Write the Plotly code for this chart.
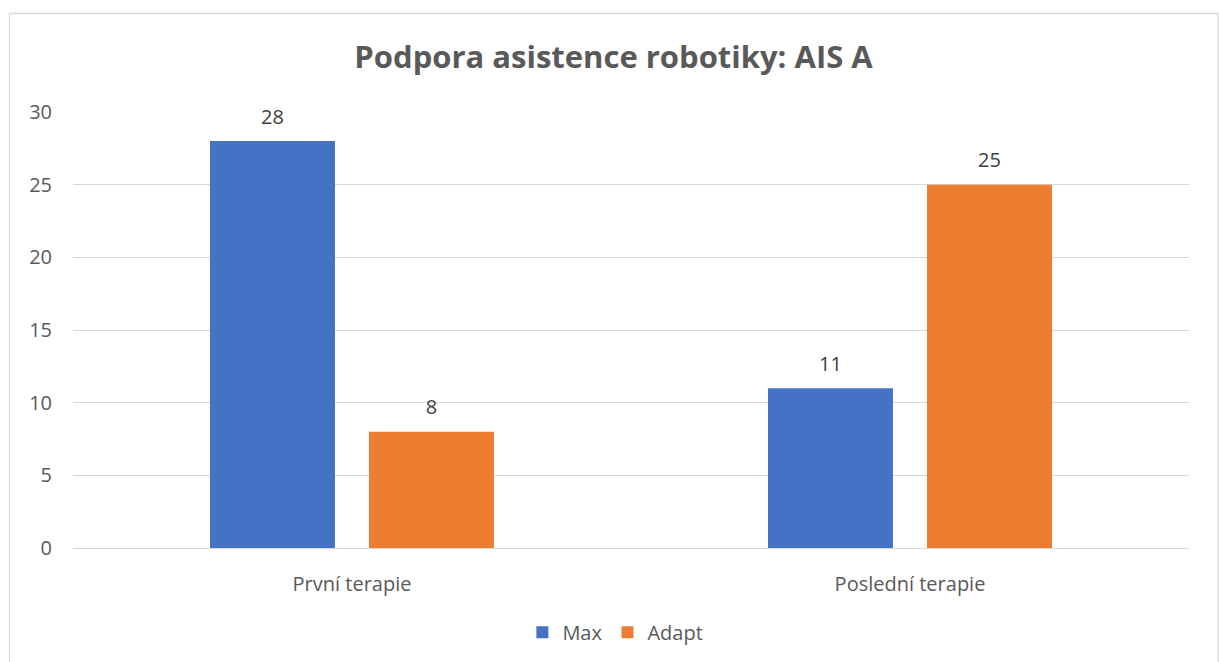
import plotly.graph_objects as go

categories = ["První terapie", "Poslední terapie"]
max_values = [28, 11]
adapt_values = [8, 25]
series_names = ["Max", "Adapt"]
series_colors = ["#4472C4", "#ED7D31"]
y_ticks = [0, 5, 10, 15, 20, 25, 30]

FONT = "'Open Sans', Lato, sans-serif"
GRAY = "#595959"
LABEL = "#404040"

fig = go.Figure()
for name, vals, col in zip(series_names, [max_values, adapt_values], series_colors):
    fig.add_trace(go.Bar(
        x=categories, y=vals, name=name, offsetgroup=name,
        marker=dict(color=col, line=dict(width=0)),
    ))
for name, vals in zip(series_names, [max_values, adapt_values]):
    fig.add_trace(go.Scatter(
        x=categories, y=vals, mode="markers+text", offsetgroup=name,
        text=[str(v) for v in vals], textposition="top center",
        textfont=dict(size=20, color=LABEL, family=FONT),
        marker=dict(size=18, opacity=0), showlegend=False,
        hoverinfo="skip", cliponaxis=False,
    ))

fig.update_layout(
    width=1219, height=662, autosize=False,
    margin=dict(l=73, r=30, t=112, b=114, autoexpand=False),
    paper_bgcolor="white", plot_bgcolor="white",
    font=dict(family=FONT, color=GRAY, size=20),
    barmode="group", bargap=0.43, bargroupgap=0.214,
    scattermode="group", scattergap=0.43,
    title=dict(text="<b>Podpora asistence robotiky: AIS A</b>",
               x=0.5033, xref="container", xanchor="center",
               y=0.914, yref="container", yanchor="middle",
               font=dict(size=31, color=GRAY, family=FONT)),
    showlegend=True,
    legend=dict(orientation="h", x=0.486, xanchor="center",
                y=-0.193, yanchor="middle", font=dict(size=20, color=GRAY)),
)
fig.update_yaxes(range=[0, 30], tickvals=y_ticks, showgrid=True,
                 gridcolor="#D9D9D9", gridwidth=1, zeroline=True,
                 zerolinecolor="#D9D9D9", zerolinewidth=1, showline=False,
                 ticks="outside", ticklen=16, tickcolor="rgba(0,0,0,0)",
                 tickfont=dict(size=20, color=GRAY))
fig.update_xaxes(showline=False, showgrid=False,
                 ticks="outside", ticklen=18, tickcolor="rgba(0,0,0,0)",
                 tickfont=dict(size=20, color=GRAY))

fig.add_shape(type="rect", xref="paper", yref="paper",
              x0=(9.5 - 73) / 1116, x1=(1218 - 73) / 1116,
              y0=-0.5, y1=(548 - 13.5) / 436,
              line=dict(color="#D9D9D9", width=1.3), fillcolor="rgba(0,0,0,0)",
              layer="below")

fig.write_html("out.html")
